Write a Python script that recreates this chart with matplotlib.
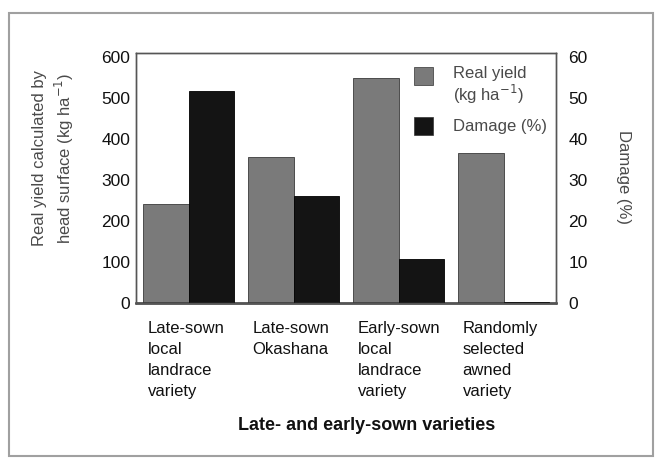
import matplotlib.pyplot as plt
import numpy as np
from matplotlib.patches import Rectangle

plt.rcParams['font.family'] = ['Liberation Sans', 'DejaVu Sans']

varieties = ["Late-sown\nlocal\nlandrace\nvariety",
             "Late-sown\nOkashana",
             "Early-sown\nlocal\nlandrace\nvariety",
             "Randomly\nselected\nawned\nvariety"]
real_yield = [241, 356, 548, 366]
damage = [51.7, 26.0, 10.7, 0.3]
yield_ticks = [0, 100, 200, 300, 400, 500, 600]
damage_ticks = [0, 10, 20, 30, 40, 50, 60]

yield_color = '#7a7a7a'
damage_color = '#141414'
text_gray = '#4a4a4a'

fig = plt.figure(figsize=(6.55, 4.62), dpi=100)
W, H = 655, 462

# scanned page border
fig.patches.append(Rectangle((9 / W, 1 - 456 / H), 644 / W, 443 / H,
                             transform=fig.transFigure, fill=False,
                             edgecolor='#a0a0a0', linewidth=1.5))

ax = fig.add_axes([136 / W, 1 - 303 / H, 420 / W, 250 / H])
ax2 = ax.twinx()

x = np.arange(len(varieties))
bw = 0.43
ax.bar(x - bw / 2, real_yield, bw, color=yield_color, edgecolor='#3a3a3a', linewidth=0.6)
ax2.bar(x + bw / 2, damage, bw, color=damage_color, edgecolor='#000000', linewidth=0.6)

ax.set_xlim(-0.5, 3.5)
ax.set_ylim(0, 610)
ax2.set_ylim(0, 61)
ax.set_yticks(yield_ticks)
ax2.set_yticks(damage_ticks)
ax.set_xticks([])
ax.tick_params(axis='y', length=0, pad=4, labelsize=12.5, colors='#111111')
ax2.tick_params(axis='y', length=0, pad=9, labelsize=12.5, colors='#111111')

for a in (ax, ax2):
    for s in a.spines.values():
        s.set_color('#555555')
        s.set_linewidth(1.0)
ax.spines['bottom'].set_linewidth(1.8)
ax.spines['bottom'].set_color('#333333')

# category labels below the bars, left aligned on the yield bar
for xi, lab in zip(x, varieties):
    ax.annotate(lab, xy=(xi - bw, 0), xycoords=('data', 'axes fraction'),
                xytext=(3, -13), textcoords='offset points',
                ha='left', va='top', fontsize=12, linespacing=1.5,
                color='#111111')

fig.text(367 / W, 1 - 426 / H, "Late- and early-sown varieties",
         ha='center', va='center', fontsize=13, fontweight='bold',
         color='#111111')

fig.text(54 / W, 1 - 158 / H,
         "Real yield calculated by\nhead surface (kg ha$^{-1}$)",
         rotation=90, ha='center', va='center', fontsize=12,
         linespacing=1.3, color=text_gray)
fig.text(623 / W, 1 - 177 / H, "Damage (%)", rotation=270,
         ha='center', va='center', fontsize=12, color=text_gray)

# legend
for yc, col, lab, dy in [(76, yield_color, "Real yield\n(kg ha$^{-1}$)", 10),
                         (126, damage_color, "Damage (%)", 0)]:
    fig.patches.append(Rectangle((414 / W, 1 - (yc + 9) / H), 19 / W, 18 / H,
                                 transform=fig.transFigure, facecolor=col,
                                 edgecolor='#333333', linewidth=0.5))
    fig.text(453 / W, 1 - (yc + dy) / H, lab, ha='left', va='center',
             fontsize=12, linespacing=1.15, color=text_gray)

fig.savefig('out.png', dpi=100)
